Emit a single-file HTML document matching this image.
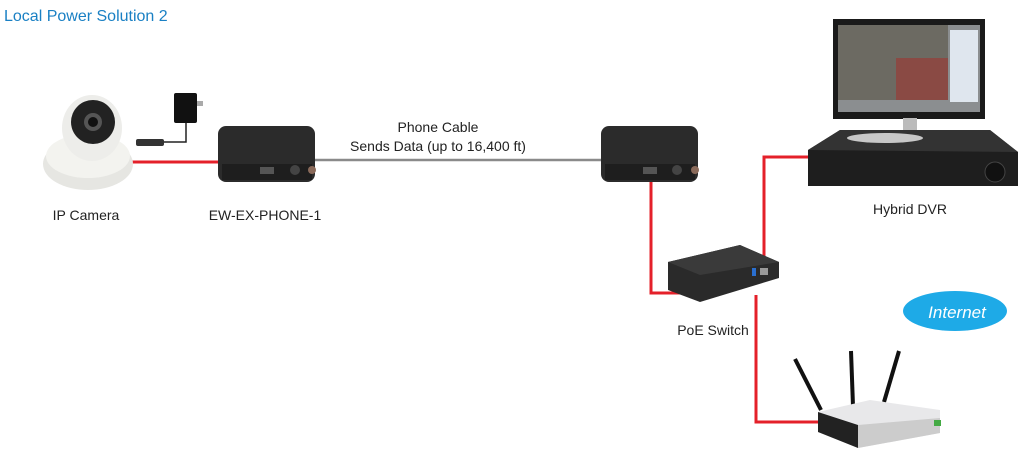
<!DOCTYPE html>
<html><head><style>
body{margin:0;background:#fff;width:1024px;height:468px;overflow:hidden;font-family:"Liberation Sans",sans-serif}
</style></head><body>
<svg width="1024" height="468" viewBox="0 0 1024 468" xmlns="http://www.w3.org/2000/svg" font-family="Liberation Sans, sans-serif">
<text x="4" y="21" font-size="16" fill="#1a80c4">Local Power Solution 2</text>
<line x1="130" y1="162" x2="220" y2="162" stroke="#e4202a" stroke-width="3"/>
<line x1="312" y1="160" x2="603" y2="160" stroke="#8a8a8a" stroke-width="2.5"/>
<polyline points="651,180 651,293 682,293" fill="none" stroke="#e4202a" stroke-width="3"/>
<polyline points="764,260 764,157 810,157" fill="none" stroke="#e4202a" stroke-width="3"/>
<polyline points="756,295 756,422 820,422" fill="none" stroke="#e4202a" stroke-width="3"/>
<ellipse cx="88" cy="164" rx="45" ry="26" fill="#e6e6e2"/>
<ellipse cx="88" cy="156" rx="42" ry="22" fill="#f3f3ef"/>
<ellipse cx="92" cy="128" rx="30" ry="33" fill="#ededea"/>
<circle cx="93" cy="122" r="22" fill="#222"/>
<circle cx="93" cy="122" r="9" fill="#555"/>
<circle cx="93" cy="122" r="5" fill="#111"/>
<rect x="174" y="93" width="23" height="30" rx="2" fill="#111"/>
<rect x="197" y="101" width="6" height="5" fill="#aaa"/>
<polyline points="186,123 186,142 163,142" fill="none" stroke="#222" stroke-width="1.5"/>
<rect x="136" y="139" width="28" height="7" rx="2" fill="#333"/>
<rect x="218" y="126" width="97" height="56" rx="8" fill="#2b2b2b"/>
<rect x="222" y="164" width="90" height="16" fill="#1e1e1e"/>
<circle cx="312" cy="170" r="4" fill="#8a6a5a"/>
<rect x="260" y="167" width="14" height="7" fill="#555"/>
<circle cx="295" cy="170" r="5" fill="#444"/>
<rect x="601" y="126" width="97" height="56" rx="8" fill="#2b2b2b"/>
<rect x="605" y="164" width="90" height="16" fill="#1e1e1e"/>
<circle cx="695" cy="170" r="4" fill="#8a6a5a"/>
<rect x="643" y="167" width="14" height="7" fill="#555"/>
<circle cx="677" cy="170" r="5" fill="#444"/>
<polygon points="668,262 740,245 779,262 779,278 700,302 668,290" fill="#2a2a2a"/>
<polygon points="668,262 740,245 779,262 700,275" fill="#3a3a3a"/>
<rect x="752" y="268" width="4" height="8" fill="#2a6fd0"/>
<rect x="760" y="268" width="8" height="7" fill="#999"/>
<rect x="833" y="19" width="152" height="100" fill="#1a1a1a"/>
<rect x="838" y="25" width="142" height="87" fill="#8b8e90"/>
<rect x="838" y="25" width="110" height="75" fill="#6c6a62"/>
<rect x="896" y="58" width="52" height="42" fill="#8a4a44"/>
<rect x="950" y="30" width="28" height="72" fill="#dfe6ee"/>
<rect x="903" y="118" width="14" height="18" fill="#bbb"/>
<polygon points="808,150 840,130 990,130 1018,152 1018,186 808,186" fill="#1e1e1e"/>
<polygon points="808,150 840,130 990,130 1018,152" fill="#333"/>
<ellipse cx="885" cy="138" rx="38" ry="5" fill="#c8c8c8"/>
<circle cx="995" cy="172" r="10" fill="#111" stroke="#444"/>
<line x1="795" y1="359" x2="821" y2="410" stroke="#111" stroke-width="4"/>
<line x1="851" y1="351" x2="853" y2="406" stroke="#111" stroke-width="4"/>
<line x1="899" y1="351" x2="884" y2="402" stroke="#111" stroke-width="4"/>
<polygon points="818,412 870,400 940,410 940,433 858,448 818,432" fill="#e8e8ea"/>
<polygon points="818,412 858,425 858,448 818,432" fill="#222"/>
<polygon points="858,425 940,418 940,433 858,448" fill="#ccc"/>
<rect x="934" y="420" width="7" height="6" fill="#4a4"/>
<ellipse cx="955" cy="311" rx="52" ry="20" fill="#1eaae7"/>
<text x="957" y="318" font-size="17" font-style="italic" fill="#fff" text-anchor="middle">Internet</text>
<g font-size="14" fill="#222" text-anchor="middle">
<text x="86" y="220">IP Camera</text>
<text x="265" y="220">EW-EX-PHONE-1</text>
<text x="438" y="132">Phone Cable</text>
<text x="438" y="151">Sends Data (up to 16,400 ft)</text>
<text x="910" y="214">Hybrid DVR</text>
<text x="713" y="335">PoE Switch</text>
</g>
</svg>
</body></html>
